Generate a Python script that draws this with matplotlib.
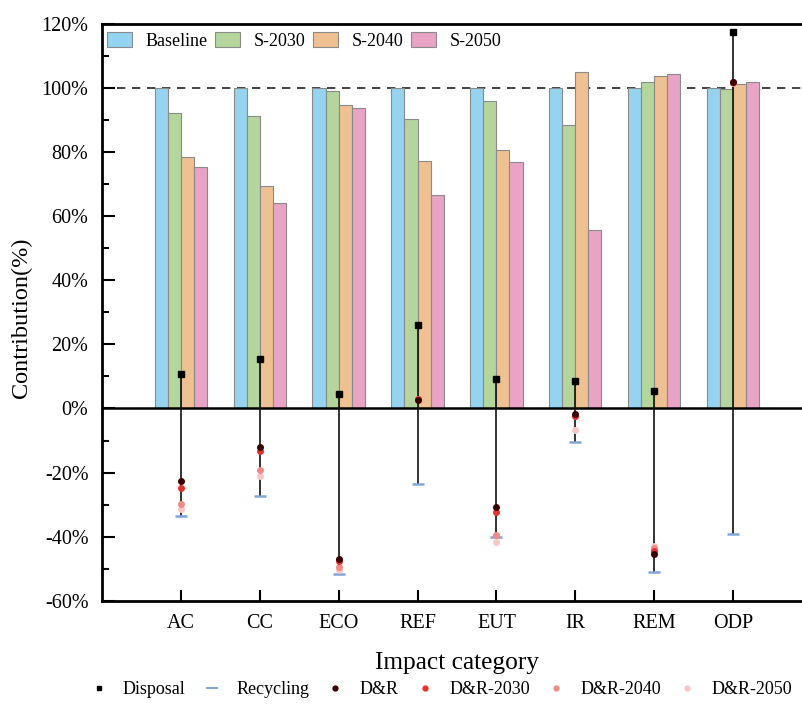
import numpy as np
import matplotlib
matplotlib.use('Agg')
import matplotlib.pyplot as plt
from matplotlib.lines import Line2D

plt.rcParams['font.family'] = ['Liberation Serif', 'DejaVu Serif']

categories = ['AC', 'CC', 'ECO', 'REF', 'EUT', 'IR', 'REM', 'ODP']
baseline = [100, 100, 100, 100, 100, 100, 100, 100]
s2030 = [92.3, 91.2, 99.0, 90.5, 96.0, 88.5, 102.0, 99.7]
s2040 = [78.5, 69.4, 94.8, 77.3, 80.6, 105.1, 103.8, 101.4]
s2050 = [75.3, 64.1, 93.7, 66.6, 77.0, 55.8, 104.5, 101.8]

disposal = [10.8, 15.3, 4.4, 26.2, 9.1, 8.5, 5.6, 117.5]
recycling = [-33.6, -27.4, -51.7, -23.6, -40.2, -10.6, -51.1, -39.3]
dr = [-22.5, -11.9, -47.0, 2.7, -30.8, -1.7, -45.4, 102.0]
dr2030 = [-24.7, -13.4, -47.5, 2.9, -32.4, -2.2, -44.4, 101.8]
dr2040 = [-29.8, -19.1, -49.6, 3.0, -39.4, -2.5, -43.5, 101.6]
dr2050 = [-31.4, -21.0, -50.4, 3.1, -41.6, -6.6, -42.8, 101.5]

bar_colors = ['#95d4f0', '#b4d69c', '#efc091', '#e9a3c4']
bar_labels = ['Baseline', 'S-2030', 'S-2040', 'S-2050']
dot_colors = ['#3a0000', '#e8302a', '#f28b86', '#f8c6c4']
dot_labels = ['D&R', 'D&R-2030', 'D&R-2040', 'D&R-2050']

fig = plt.figure(figsize=(8.03, 7.04), dpi=100)
ax = fig.add_axes([0.1266, 0.1467, 0.885, 0.8192])

x = np.arange(1, len(categories) + 1)
w = 0.165
bars = []
for i, vals in enumerate([baseline, s2030, s2040, s2050]):
    b = ax.bar(x + (i - 1.5) * w, vals, w, color=bar_colors[i], edgecolor='#8a8a8a',
               linewidth=0.8, label=bar_labels[i], zorder=2)
    bars.append(b)

ax.axhline(100, color='#222222', ls=(0, (5, 4)), lw=1.2, zorder=1)
ax.axhline(0, color='black', lw=1.8, zorder=3)

# range lines: disposal -> recycling
ax.vlines(x, recycling, disposal, color='#111111', lw=1.2, zorder=4)
ax.plot(x, disposal, 's', color='black', ms=4, zorder=6)
ax.plot(x, recycling, '_', color='#7ea6d8', ms=8, mew=1.8, zorder=5)
for vals, c in zip([dr2050, dr2040, dr2030, dr], dot_colors[::-1]):
    ax.plot(x, vals, 'o', color=c, ms=4, zorder=7)

ax.set_xlim(0, 9)
ax.set_ylim(-60, 120)
ax.set_xticks(x)
ax.set_xticklabels(categories)
ax.set_yticks(np.arange(-60, 121, 20))
ax.set_yticklabels([f'{v}%' for v in range(-60, 121, 20)])
ax.set_yticks(np.arange(-50, 120, 20), minor=True)
ax.tick_params(axis='both', direction='in', labelsize=14.5, width=1.5)
ax.tick_params(axis='y', which='major', length=9, pad=9.5)
ax.tick_params(axis='y', which='minor', length=5, width=1.5, direction='in')
ax.tick_params(axis='x', length=8, pad=9.5)
for s in ['left', 'bottom', 'top']:
    ax.spines[s].set_linewidth(2)
ax.spines['right'].set_visible(False)

ax.set_ylabel('Contribution(%)', fontsize=17.5, labelpad=7)
ax.yaxis.label.set_y(0.49)
ax.set_xlabel('Impact category', fontsize=18.3, labelpad=14)

fig.legend(bars, bar_labels, loc='center left', ncol=4, frameon=False, fontsize=13,
           handlelength=1.39, handleheight=0.9, columnspacing=0.45,
           handletextpad=0.72, borderpad=0, borderaxespad=0,
           bbox_to_anchor=(107 / 803, 1 - 41 / 704))

handles = [Line2D([], [], ls='none', marker='s', color='black', ms=3),
           Line2D([], [], ls='none', marker='_', color='#7ea6d8', ms=9, mew=1.5)]
handles += [Line2D([], [], ls='none', marker='o', color=c, ms=3.5) for c in dot_colors]
fig.legend(handles, ['Disposal', 'Recycling'] + dot_labels, loc='center left',
           bbox_to_anchor=(89.6 / 803, 1 - 690 / 704), ncol=6, frameon=False,
           fontsize=13, handlelength=1.0, columnspacing=0.95, handletextpad=0.85,
           borderpad=0, borderaxespad=0)

fig.savefig('out.png', dpi=100)
